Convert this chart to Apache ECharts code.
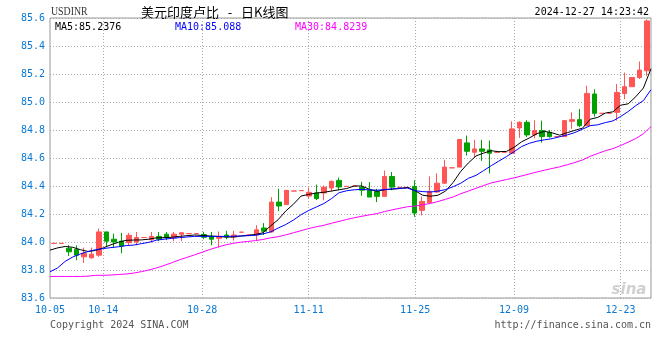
<!DOCTYPE html>
<html>
<head>
<meta charset="utf-8">
<script src="https://cdn.jsdelivr.net/npm/echarts@6/dist/echarts.min.js"></script>
<style>
html,body{margin:0;padding:0;background:#fff;}
#c{width:660px;height:360px;}
</style>
</head>
<body>
<div id="c"></div>
<script>
const dates = [
 '10-05','10-07','10-08','10-09','10-10','10-11','10-12',
 '10-14','10-15','10-16','10-17','10-18','10-19','10-21','10-22','10-23','10-24','10-25','10-26','10-27',
 '10-28','10-29','10-30','10-31','11-01','11-02','11-03','11-04','11-05','11-06','11-07','11-08','11-09','11-10',
 '11-11','11-12','11-13','11-14','11-15','11-16','11-17','11-18','11-19','11-20','11-21','11-22','11-23','11-24',
 '11-25','11-26','11-27','11-28','11-29','11-30','12-02','12-03','12-04','12-05','12-06','12-07','12-08',
 '12-09','12-10','12-11','12-12','12-13','12-14','12-15','12-16','12-17','12-18','12-19','12-20','12-21','12-22',
 '12-23','12-24','12-25','12-26','12-27'
];
const tickDates = ['10-05','10-14','10-28','11-11','11-25','12-09','12-23'];
const yTicks = [83.6, 83.8, 84.0, 84.2, 84.4, 84.6, 84.8, 85.0, 85.2, 85.4, 85.6];

const openVals = [83.99,83.99,83.955,83.947,83.894,83.887,83.906,84.072,84.02,84.006,
 83.995,84.0,84.032,84.017,84.04,84.056,84.03,84.055,84.06,84.06,
 84.053,84.04,84.027,84.05,84.035,84.07,84.05,84.05,84.10,84.072,
 84.285,84.267,84.364,84.367,84.328,84.35,84.35,84.386,84.44,84.397,
 84.40,84.39,84.369,84.362,84.326,84.468,84.39,84.39,84.397,84.226,
 84.28,84.357,84.42,84.53,84.535,84.708,84.641,84.665,84.658,84.641,
 84.641,84.634,84.815,84.855,84.765,84.796,84.784,84.753,84.753,84.862,
 84.874,84.831,85.057,84.919,84.919,84.926,85.061,85.109,85.175,85.223];
const closeVals = [83.99,83.99,83.93,83.906,83.918,83.913,84.072,84.006,84.0,83.97,
 84.048,84.032,84.032,84.04,84.02,84.03,84.056,84.066,84.06,84.06,
 84.034,84.02,84.04,84.035,84.05,84.07,84.05,84.087,84.077,84.285,
 84.257,84.369,84.364,84.367,84.355,84.31,84.392,84.433,84.393,84.397,
 84.40,84.37,84.321,84.326,84.468,84.392,84.39,84.39,84.207,84.29,
 84.362,84.42,84.535,84.53,84.732,84.648,84.665,84.648,84.634,84.641,
 84.641,84.808,84.855,84.765,84.796,84.753,84.753,84.753,84.867,84.874,
 84.831,85.061,84.919,84.919,84.919,85.068,85.109,85.175,85.228,85.579];
const lowVals = [83.99,83.99,83.90,83.87,83.85,83.88,83.894,83.965,83.958,83.92,
 83.977,83.977,84.032,83.995,84.006,84.013,84.006,84.006,84.06,84.06,
 84.02,83.977,83.96,84.02,84.01,84.07,84.05,84.013,84.05,84.066,
 84.22,84.267,84.364,84.367,84.31,84.30,84.298,84.36,84.37,84.397,
 84.40,84.33,84.321,84.285,84.326,84.37,84.39,84.39,84.18,84.19,
 84.27,84.35,84.416,84.53,84.535,84.618,84.606,84.58,84.49,84.641,
 84.641,84.63,84.744,84.75,84.74,84.71,84.745,84.753,84.753,84.808,
 84.82,84.831,84.895,84.919,84.919,84.867,85.02,85.109,85.164,85.187];
const highVals = [83.99,83.99,83.978,83.976,83.96,83.96,84.096,84.072,84.06,84.065,
 84.065,84.072,84.032,84.072,84.072,84.072,84.072,84.066,84.06,84.06,
 84.072,84.072,84.075,84.08,84.08,84.07,84.05,84.12,84.135,84.32,
 84.38,84.37,84.364,84.367,84.39,84.41,84.404,84.44,84.46,84.397,
 84.40,84.43,84.428,84.38,84.51,84.50,84.39,84.39,84.44,84.326,
 84.468,84.49,84.587,84.53,84.732,84.76,84.73,84.73,84.725,84.641,
 84.641,84.862,84.862,84.87,84.87,84.867,84.80,84.753,84.872,84.926,
 84.95,85.116,85.09,84.919,84.919,85.128,85.21,85.175,85.289,85.59];

const ma5 = [83.942,83.958,83.968,83.962,83.945,83.932,83.94,83.958,83.98,83.998,
 84.012,84.014,84.015,84.02,84.03,84.031,84.034,84.04,84.045,84.05,
 84.047,84.043,84.04,84.036,84.035,84.042,84.047,84.054,84.066,84.115,
 84.16,84.222,84.27,84.328,84.34,84.35,84.355,84.364,84.373,84.382,
 84.4,84.4,84.376,84.362,84.374,84.377,84.382,84.39,84.366,84.334,
 84.327,84.334,84.364,84.426,84.505,84.565,84.615,84.635,84.652,84.645,
 84.647,84.676,84.716,84.743,84.774,84.79,84.78,84.763,84.781,84.798,
 84.813,84.877,84.89,84.921,84.93,84.977,84.987,85.038,85.1,85.2376];
const ma10 = [83.787,83.815,83.862,83.893,83.915,83.932,83.945,83.953,83.96,83.966,
 83.974,83.978,83.988,83.998,84.013,84.02,84.026,84.031,84.036,84.04,
 84.04,84.04,84.04,84.04,84.041,84.043,84.045,84.048,84.058,84.072,
 84.1,84.125,84.157,84.195,84.225,84.25,84.275,84.31,84.352,84.366,
 84.373,84.376,84.372,84.37,84.374,84.38,84.384,84.385,84.366,84.36,
 84.357,84.363,84.375,84.395,84.42,84.455,84.476,84.51,84.545,84.578,
 84.61,84.645,84.682,84.705,84.72,84.73,84.738,84.752,84.765,84.782,
 84.806,84.831,84.837,84.853,84.865,84.896,84.932,84.974,85.01,85.088];
const ma30 = [83.754,83.754,83.754,83.754,83.754,83.756,83.762,83.762,83.764,83.768,
 83.771,83.778,83.788,83.8,83.815,83.832,83.852,83.872,83.89,83.908,
 83.927,83.946,83.963,83.978,83.99,83.998,84.004,84.01,84.018,84.03,
 84.038,84.051,84.066,84.081,84.096,84.109,84.119,84.134,84.147,84.161,
 84.173,84.184,84.194,84.203,84.218,84.23,84.241,84.252,84.257,84.265,
 84.276,84.289,84.305,84.322,84.345,84.364,84.384,84.403,84.422,84.434,
 84.446,84.458,84.472,84.486,84.5,84.513,84.525,84.537,84.552,84.568,
 84.586,84.612,84.632,84.652,84.667,84.689,84.713,84.739,84.773,84.8239];

const UP = '#ff5555', DOWN = '#00a000';
const BLUE_TXT = '#0a78d2';
const MONO = "'DejaVu Sans Mono', 'Liberation Mono', monospace";

const kData = openVals.map((o, i) => [o, closeVals[i], lowVals[i], highVals[i]]);
const isTick = (i) => tickDates.indexOf(dates[i]) >= 0;

const chart = echarts.init(document.getElementById('c'), null, {renderer: 'canvas'});
function txt(x, y, text, font, fill, align, extra) {
  const el = {type: 'text', x: x, y: y, silent: true,
    style: {text: text, font: font, fill: fill, align: align || 'left', verticalAlign: 'middle',
            textAlign: align || 'left', textVerticalAlign: 'middle'}};
  return Object.assign(el, extra || {});
}
chart.setOption({
  animation: false,
  backgroundColor: '#fff',
  grid: {left: 50, right: 9, top: 18, bottom: 62, show: true, borderColor: '#999', borderWidth: 1, backgroundColor: 'transparent'},
  xAxis: [
    {type: 'category', data: dates, boundaryGap: true, position: 'bottom',
     axisLine: {show: false}, axisTick: {show: false}, axisLabel: {show: false}, splitLine: {show: false}},
    {type: 'category', data: dates, boundaryGap: false, position: 'bottom',
     axisLine: {show: false}, axisTick: {show: false},
     axisLabel: {interval: (i) => isTick(i), color: BLUE_TXT, fontFamily: MONO, fontSize: 10, margin: 7},
     splitLine: {show: true, interval: (i) => isTick(i) && i > 0, lineStyle: {color: '#aaa', type: [1, 2], width: 1}}}
  ],
  yAxis: {type: 'value', min: yTicks[0], max: yTicks[yTicks.length - 1], interval: 0.2, scale: true,
    axisLine: {show: false}, axisTick: {show: false},
    axisLabel: {color: BLUE_TXT, fontFamily: MONO, fontSize: 10, margin: 5, formatter: (v) => v.toFixed(1)},
    splitLine: {show: true, lineStyle: {color: '#aaa', type: [1, 2], width: 1}}},
  series: [
    {type: 'candlestick', xAxisIndex: 0, data: kData, barWidth: 5,
     itemStyle: {color: UP, color0: DOWN, borderColor: UP, borderColor0: DOWN, borderColorDoji: UP, borderWidth: 1}},
    {type: 'line', xAxisIndex: 1, data: ma5, showSymbol: false, symbol: 'none', lineStyle: {color: '#000', width: 1}},
    {type: 'line', xAxisIndex: 1, data: ma10, showSymbol: false, symbol: 'none', lineStyle: {color: '#0000ff', width: 1}},
    {type: 'line', xAxisIndex: 1, data: ma30, showSymbol: false, symbol: 'none', lineStyle: {color: '#ff00ff', width: 1}}
  ],
  graphic: [
    txt(51, 12, 'USDINR', "12px 'Liberation Serif', serif", '#333', 'left', {scaleX: 0.82, originX: 0, originY: 0}),
    txt(141, 12, '美元印度卢比   -   日K线图', "13px 'Noto Sans CJK SC', sans-serif", '#000'),
    txt(649, 12, '2024-12-27 14:23:42', '10px ' + MONO, '#000', 'right'),
    txt(55, 27, 'MA5:' + ma5[ma5.length - 1], '10px ' + MONO, '#000'),
    txt(175, 27, 'MA10:' + ma10[ma10.length - 1], '10px ' + MONO, '#0000ff'),
    txt(295, 27, 'MA30:' + ma30[ma30.length - 1], '10px ' + MONO, '#ff00ff'),
    txt(50, 325, 'Copyright 2024 SINA.COM', '10px ' + MONO, '#555'),
    txt(651, 325, 'http://finance.sina.com.cn', '10px ' + MONO, '#555', 'right'),
    txt(629, 290, 'sina', "italic bold 15px 'DejaVu Sans', sans-serif", '#d0d0d0', 'center')
  ]
});
</script>
</body>
</html>
